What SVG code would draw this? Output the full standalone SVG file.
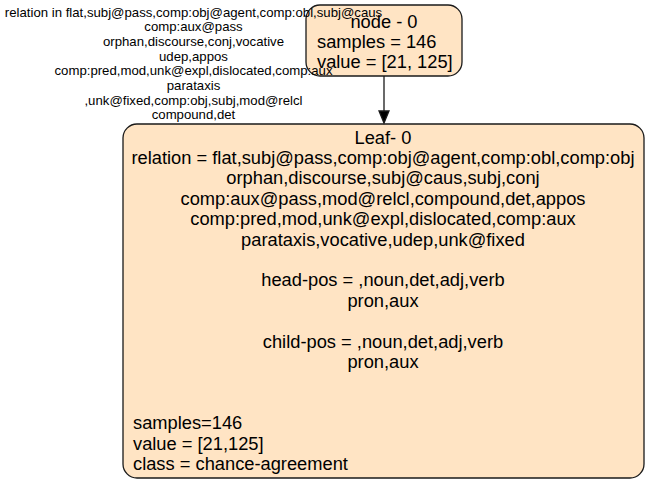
<svg xmlns="http://www.w3.org/2000/svg" width="651" height="485" viewBox="0 0 651 485">
<style>
  .box { fill: #ffe4c4; stroke: #1a1a1a; stroke-width: 1.3; }
  .t { font-family: "Liberation Sans", Arial, Helvetica, sans-serif; font-size: 18.3px; fill: #000; }
  .c { text-anchor: middle; }
  .e { font-family: "Liberation Sans", Arial, Helvetica, sans-serif; font-size: 13.2px; fill: #000; text-anchor: middle; }
  .edge { stroke: #1a1a1a; stroke-width: 1.3; fill: none; }
  .head { fill: #000; stroke: #1a1a1a; stroke-width: 1.3; }
</style>
<rect width="651" height="485" fill="#ffffff"/>
<g id="node0">
  <rect class="box" x="306" y="5" width="156" height="71" rx="14" ry="14"/>
  <text class="t c" x="384" y="28">node - 0</text>
  <text class="t" x="317" y="48">samples = 146</text>
  <text class="t" x="317" y="68">value = [21, 125]</text>
</g>
<g id="leaf0">
  <rect class="box" x="123" y="124" width="521" height="354" rx="14" ry="14"/>
  <text class="t c" x="383" y="143.5">Leaf- 0</text>
  <text class="t c" x="383" y="163.9">relation = flat,subj@pass,comp:obj@agent,comp:obl,comp:obj</text>
  <text class="t c" x="383" y="184.3">orphan,discourse,subj@caus,subj,conj</text>
  <text class="t c" x="383" y="204.7">comp:aux@pass,mod@relcl,compound,det,appos</text>
  <text class="t c" x="383" y="225.1">comp:pred,mod,unk@expl,dislocated,comp:aux</text>
  <text class="t c" x="383" y="245.5">parataxis,vocative,udep,unk@fixed</text>
  <text class="t c" x="383" y="286.3">head-pos = ,noun,det,adj,verb</text>
  <text class="t c" x="383" y="306.7">pron,aux</text>
  <text class="t c" x="383" y="347.5">child-pos = ,noun,det,adj,verb</text>
  <text class="t c" x="383" y="367.9">pron,aux</text>
  <text class="t" x="133" y="429.1">samples=146</text>
  <text class="t" x="133" y="449.5">value = [21,125]</text>
  <text class="t" x="133" y="469.9">class = chance-agreement</text>
</g>
<g id="connectors">
  <path class="edge" d="M384,76 L384,111"/>
  <polygon class="head" points="379,111 389,111 384,123"/>
  <text class="e" x="193.5" y="16.5">relation in flat,subj@pass,comp:obj@agent,comp:obl,subj@caus</text>
  <text class="e" x="193.5" y="31.2">comp:aux@pass</text>
  <text class="e" x="193.5" y="45.9">orphan,discourse,conj,vocative</text>
  <text class="e" x="193.5" y="60.6">udep,appos</text>
  <text class="e" x="193.5" y="75.3">comp:pred,mod,unk@expl,dislocated,comp:aux</text>
  <text class="e" x="193.5" y="90">parataxis</text>
  <text class="e" x="193.5" y="104.7">,unk@fixed,comp:obj,subj,mod@relcl</text>
  <text class="e" x="193.5" y="119.4">compound,det</text>
</g>
</svg>
